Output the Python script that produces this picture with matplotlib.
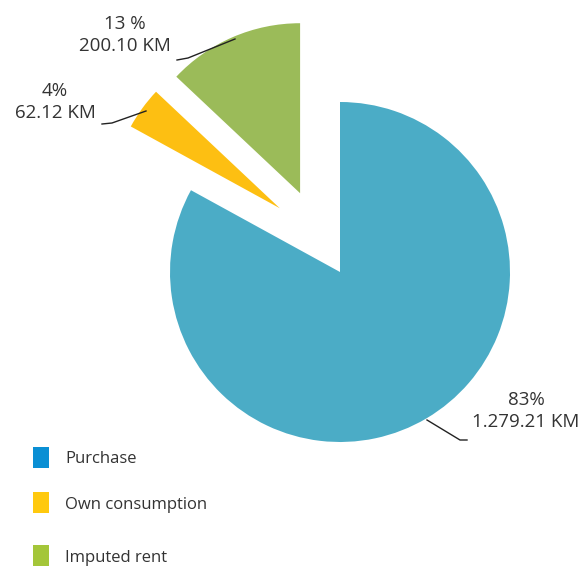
import matplotlib
matplotlib.use("Agg")
import matplotlib.pyplot as plt
from matplotlib.patches import Rectangle

categories = ["Purchase", "Own consumption", "Imputed rent"]
values = [1279.21, 62.12, 200.10]
pct_labels = ["83%", "4%", "13 %"]
value_labels = ["1.279.21 KM", "62.12 KM", "200.10 KM"]

slice_colors = ["#4BACC6", "#FDBF12", "#9BBB59"]
legend_colors = ["#0A8FD4", "#FFC90E", "#A4C639"]

plt.rcParams["font.family"] = ["Open Sans", "DejaVu Sans"]

W, H = 584, 566
fig = plt.figure(figsize=(W / 100, H / 100), dpi=100)
ax = fig.add_axes([0, 0, 1, 1])

cx, cy, R = 340, H - 272, 170
wedges, _ = ax.pie(values, colors=slice_colors, startangle=90, counterclock=False,
                   explode=[0, 88, 88], center=(cx, cy), radius=R,
                   wedgeprops=dict(linewidth=0), frame=True)
# small nudges of the exploded slices to match the reference placement
nudges = [(0, 0), (11, 12), (-5, -2)]
for w, (dx, dy) in zip(wedges, nudges):
    wx, wy = w.center
    w.set_center((wx + dx, wy + dy))

ax.set_xlim(0, W)
ax.set_ylim(0, H)
ax.set_aspect("equal")
ax.axis("off")

txt_col = "#333333"
fs = 13.5
# label positions (pixel coords, y from top) and leader lines
label_pos = [(526, 411), (55, 102), (125, 35)]
leaders = [[(427, 420), (460, 440), (467, 440)],
           [(102, 124), (112, 123), (146, 111)],
           [(177, 60), (188, 58), (235, 39)]]
for i in range(3):
    x, y = label_pos[i]
    ax.text(x, H - y, pct_labels[i] + "\n" + value_labels[i], ha="center", va="center",
            fontsize=fs, color=txt_col, linespacing=1.25)
    xs = [p[0] for p in leaders[i]]
    ys = [H - p[1] for p in leaders[i]]
    ax.plot(xs, ys, color="#222222", lw=1.0)

# legend
leg_y = [447, 492, 545]
leg_ty = [459, 505, 558]
for i in range(3):
    ax.add_patch(Rectangle((33, H - leg_y[i] - 21), 16, 21, color=legend_colors[i], lw=0))
    ax.text(65, H - leg_ty[i], categories[i], ha="left", va="center",
            fontsize=12, color=txt_col)

fig.savefig("out.png", dpi=100)
